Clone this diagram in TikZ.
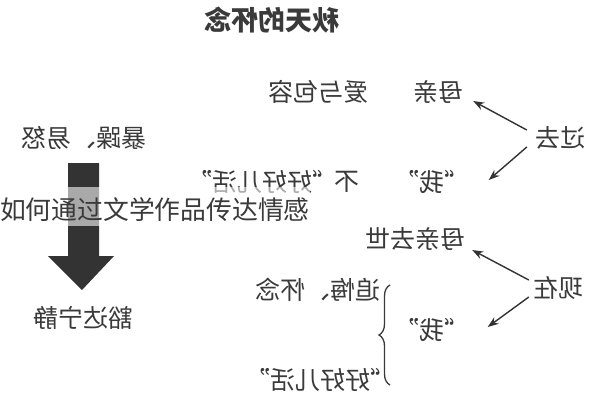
\documentclass[tikz,border=0pt]{standalone}
\usepackage{fontspec}
\newfontfamily\cjk{Noto Sans CJK SC}
\usetikzlibrary{arrows.meta,positioning,decorations.pathreplacing}
\definecolor{inkgray}{HTML}{3A3A3A}
\definecolor{arrowgray}{HTML}{333333}

\begin{document}
\begin{tikzpicture}[x=1pt,y=1pt]
    \tikzstyle{every node}+=[inner sep=0pt, font=\cjk\fontsize{25}{25}\selectfont, text=inkgray]
    \tikzstyle{link}=[draw=arrowgray, line width=1.4pt, -{Stealth[length=11pt,width=8pt]}]
    \useasboundingbox (0,0) rectangle (595,-400);
    \fill[white] (0,0) rectangle (595,-400);
    % the whole scheme is printed mirror-wise
    \begin{scope}[xshift=595pt, xscale=-1, every node/.append style={transform shape}]
        \node (title) at (323,-20) {\fontsize{27}{27}\selectfont\bfseries 秋天的怀念};
        % left column: before and after
        \node (baozao) at (511,-138) {暴躁、易怒};
        \node (huoda) at (512,-318) {豁达宁静};
        \fill[arrowgray] (496,-163) -- (527,-163) -- (527,-256) -- (547,-256)
            -- (513,-290) -- (481,-256) -- (496,-256) -- cycle;
        % past
        \node (guoqu) at (35,-138) {过去};
        \node (muqin) at (157,-92) {母亲};
        \node (aiyu) at (277,-92) {爱与包容};
        \node (woa) at (163,-182) {“我”};
        \node (bu) at (248,-182) {不};
        \node (haohaoa) at (333,-182) {“好好儿活”};
        \draw[link] ([xshift=8pt,yshift=8pt]guoqu.east) -- ([xshift=-10pt,yshift=-9pt]muqin.west);
        \draw[link] ([xshift=8pt,yshift=-9pt]guoqu.east) -- ([xshift=-19pt,yshift=2pt]woa.west);
        % present
        \node (xianzai) at (37,-288) {现在};
        \node (qushi) at (180,-239) {母亲去世};
        \node (wob) at (163,-330) {“我”};
        \node (zhuihui) at (277,-290) {追悔、怀念};
        \node (haohaob) at (275,-380) {“好好儿活”};
        \draw[link] ([xshift=4pt,yshift=8pt]xianzai.east) -- ([xshift=-7pt,yshift=-11pt]qushi.west);
        \draw[link] ([xshift=4pt,yshift=-9pt]xianzai.east) -- ([xshift=-18pt,yshift=3pt]wob.west);
        \draw[inkgray, line width=1.3pt, decorate, decoration={brace, amplitude=11pt}]
            (205,-385) -- (205,-285);
    \end{scope}
    \fill[white, fill opacity=0.58] (0,-187) rectangle (310,-226);
    \node (caption) at (155,-210) {\fontsize{25.8}{25.8}\selectfont 如何通过文学作品传达情感};
\end{tikzpicture}
\end{document}
